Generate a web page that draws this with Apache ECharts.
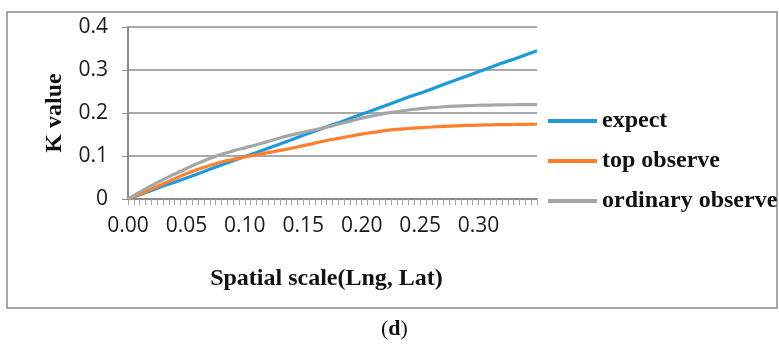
<!DOCTYPE html>
<html>
<head>
<meta charset="utf-8">
<script src="https://cdn.jsdelivr.net/npm/echarts@6/dist/echarts.min.js"></script>
<style>
  html, body { margin: 0; padding: 0; background: #fff; }
  #chart { width: 779px; height: 350px; }
</style>
</head>
<body>
<div id="chart"></div>
<script>
// spatial scale (Lng, Lat)
var scales = [0, 0.01, 0.02, 0.03, 0.04, 0.05, 0.06, 0.07, 0.08, 0.09,
  0.10, 0.11, 0.12, 0.13, 0.14, 0.15, 0.16, 0.17, 0.18, 0.19,
  0.20, 0.21, 0.22, 0.23, 0.24, 0.25, 0.26, 0.27, 0.28, 0.29,
  0.30, 0.31, 0.32, 0.33, 0.34, 0.35]
var expectK = [0, 0.010, 0.020, 0.030, 0.039, 0.049, 0.059, 0.069, 0.079, 0.089,
  0.099, 0.108, 0.118, 0.128, 0.138, 0.148, 0.158, 0.168, 0.177, 0.187,
  0.197, 0.207, 0.217, 0.227, 0.237, 0.246, 0.256, 0.266, 0.276, 0.286,
  0.296, 0.306, 0.316, 0.325, 0.335, 0.345]
var topObserve = [0, 0.011, 0.023, 0.035, 0.047, 0.059, 0.069, 0.078, 0.086, 0.092,
  0.098, 0.103, 0.108, 0.113, 0.118, 0.124, 0.130, 0.136, 0.141, 0.146,
  0.151, 0.155, 0.159, 0.162, 0.164, 0.166, 0.1675, 0.169, 0.170, 0.171,
  0.172, 0.1725, 0.173, 0.1733, 0.1736, 0.1738]
var ordinaryObserve = [0, 0.016, 0.031, 0.045, 0.058, 0.071, 0.083, 0.094, 0.104, 0.112,
  0.119, 0.126, 0.134, 0.142, 0.149, 0.155, 0.161, 0.167, 0.174, 0.181,
  0.188, 0.194, 0.199, 0.203, 0.207, 0.210, 0.2125, 0.2145, 0.216, 0.217,
  0.218, 0.2185, 0.219, 0.2192, 0.2194, 0.2195]
var seriesNames = ['expect', 'top observe', 'ordinary observe']
var seriesColors = ['#1E9AD9', '#FF7F2A', '#A6A6A6']

var chart = echarts.init(document.getElementById('chart'))

function pairs(values) {
  return scales.map(function (x, i) { return [x, values[i]] })
}

var allValues = [expectK, topObserve, ordinaryObserve]
var series = []
for (var i = 0; i < allValues.length; i++) {
  series.push({
    name: seriesNames[i],
    type: 'line',
    data: pairs(allValues[i]),
    smooth: i === 0 ? false : 0.5,
    showSymbol: false,
    symbol: 'none',
    lineStyle: { color: seriesColors[i], width: 3.2 },
    itemStyle: { color: seriesColors[i] }
  })
}

var labelFont = { fontFamily: 'Open Sans', fontSize: 21, color: '#1a1a1a' }
var nameFont = { fontFamily: 'Liberation Serif', fontWeight: 'bold', fontSize: 24, color: '#111' }
var gray = '#8c8c8c'

chart.setOption({
  animation: false,
  grid: { left: 128, right: 242, top: 27, bottom: 151 },
  legend: {
    orient: 'vertical',
    left: 543,
    top: 104,
    itemWidth: 49,
    itemHeight: 4,
    itemGap: 16,
    icon: 'rect',
    data: seriesNames,
    textStyle: nameFont
  },
  xAxis: {
    type: 'value',
    min: 0,
    max: 0.35,
    interval: 0.05,
    name: 'Spatial scale(Lng, Lat)',
    nameLocation: 'middle',
    nameGap: 68,
    nameTextStyle: Object.assign({ padding: [0, 12, 0, 0] }, nameFont),
    axisLine: { lineStyle: { color: gray, width: 2 } },
    axisTick: { show: true, length: 6, lineStyle: { color: '#a0a0a0' } },
    minorTick: { show: true, splitNumber: 10, length: 6, lineStyle: { color: '#a0a0a0' } },
    splitLine: { show: false },
    axisLabel: Object.assign({
      margin: 17,
      formatter: function (v) { return v > 0.349 ? '' : v.toFixed(2) }
    }, labelFont)
  },
  yAxis: {
    type: 'value',
    min: 0,
    max: 0.4,
    interval: 0.1,
    name: 'K value',
    nameLocation: 'middle',
    nameGap: 61,
    nameTextStyle: nameFont,
    axisLine: { show: true, lineStyle: { color: gray, width: 2 } },
    axisTick: { show: true, length: 6, lineStyle: { color: gray } },
    splitLine: { show: true, lineStyle: { color: gray, width: 1.5 } },
    axisLabel: Object.assign({ margin: 20 }, labelFont)
  },
  graphic: [
    {
      type: 'rect',
      shape: { x: 7, y: 12, width: 770, height: 296 },
      style: { fill: null, stroke: gray, lineWidth: 1.5 },
      silent: true
    },
    {
      type: 'text',
      left: 381,
      top: 318,
      style: {
        text: '({b|d})',
        fontFamily: 'Liberation Serif',
        fontSize: 22,
        fill: '#111',
        rich: { b: { fontFamily: 'Liberation Serif', fontSize: 22, fontWeight: 'bold', fill: '#111' } }
      }
    }
  ],
  series: series
})
</script>
</body>
</html>
